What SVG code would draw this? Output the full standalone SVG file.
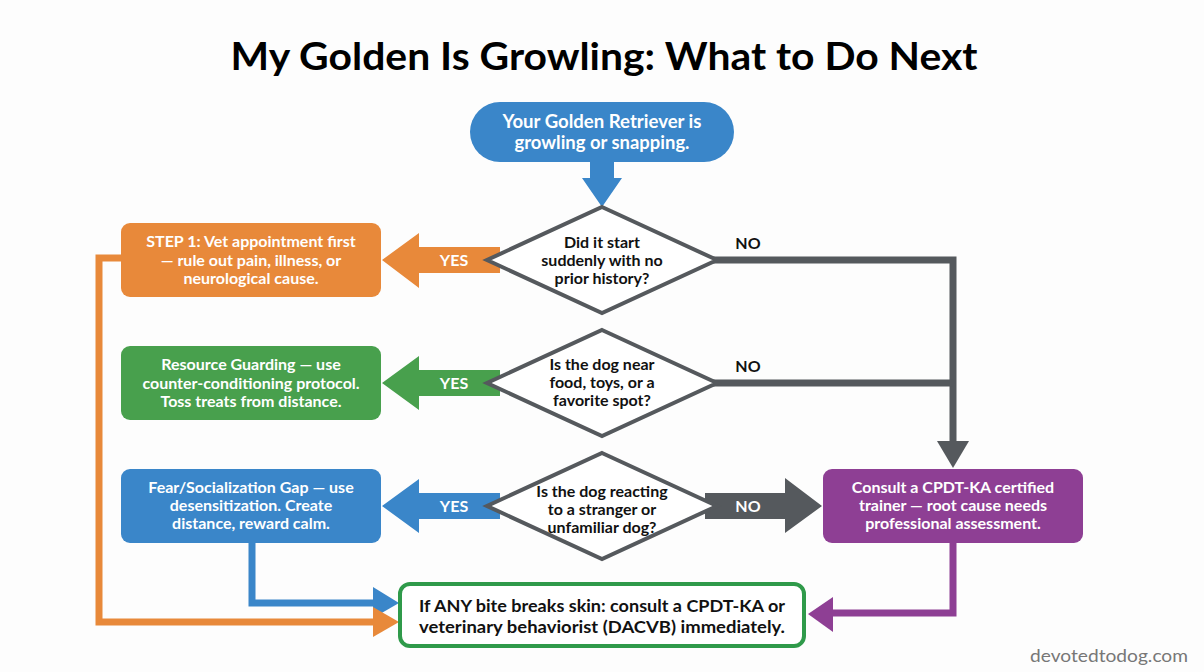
<svg xmlns="http://www.w3.org/2000/svg" width="1204" height="672" viewBox="0 0 1204 672">
<style>
.t{font-family:Lato,"Liberation Sans",sans-serif;font-weight:bold;text-anchor:middle}
.w{fill:#ffffff;font-size:16px}
.k{fill:#111111;font-size:16px}
.lbl{font-size:16px}
.dia{fill:#ffffff;stroke:#55595d;stroke-width:4;stroke-linejoin:miter}
.ln{fill:none;stroke-width:7;stroke-linejoin:miter}
</style>
<rect width="1204" height="672" fill="#fdfdfd"/>
<text class="t" x="604" y="70" font-size="38" fill="#000" textLength="747" lengthAdjust="spacingAndGlyphs">My Golden Is Growling: What to Do Next</text>

<g id="connectors">
  <polygon points="590,158 614,158 614,178 622,178 602,207 582,178 590,178" fill="#3a86c9"/>
  <polygon points="382,260 419,233 419,247 500,247 500,273 419,273 419,288" fill="#e8893a"/>
  <polygon points="382,383 419,356 419,370 500,370 500,396 419,396 419,410" fill="#48a04d"/>
  <polygon points="382,506 419,479 419,493 500,493 500,519 419,519 419,533" fill="#3a86c9"/>
  <polygon points="705,493 785,493 785,478 822,506 785,533 785,519 705,519" fill="#55595d"/>
  <polyline class="ln" points="710,260 953,260 953,445" stroke="#55595d"/>
  <polyline class="ln" points="710,383 953,383" stroke="#55595d"/>
  <polygon points="937,441 969,441 953,468" fill="#55595d"/>
  <polyline class="ln" points="252,540 252,603 376,603" stroke="#3a86c9"/>
  <polygon points="373,587 399,603 373,618" fill="#3a86c9"/>
  <polyline class="ln" points="124,258 99,258 99,622 376,622" stroke="#e8893a"/>
  <polygon points="373,607 399,622 373,637" fill="#e8893a"/>
  <polyline class="ln" points="953,540 953,613 830,613" stroke="#8e3f94"/>
  <polygon points="833,597 808,614 833,632" fill="#8e3f94"/>
  <text class="t w lbl" x="454" y="266">YES</text>
  <text class="t w lbl" x="454" y="389">YES</text>
  <text class="t w lbl" x="454" y="512">YES</text>
  <text class="t w lbl" x="748" y="512">NO</text>
  <text class="t k lbl" x="748" y="249">NO</text>
  <text class="t k lbl" x="748" y="372">NO</text>
</g>

<g id="start">
  <rect x="470" y="102" width="264" height="60" rx="30" fill="#3a86c9"/>
  <text class="t w" style="font-size:18px" x="602" y="128" textLength="199" lengthAdjust="spacingAndGlyphs">Your Golden Retriever is</text>
  <text class="t w" style="font-size:18px" x="602" y="149" textLength="175" lengthAdjust="spacingAndGlyphs">growling or snapping.</text>
</g>

<g id="q1">
  <polygon class="dia" points="602,207 717,260 602,313 487,260"/>
  <text class="t k" x="602" y="248">Did it start</text>
  <text class="t k" x="602" y="266">suddenly with no</text>
  <text class="t k" x="602" y="284">prior history?</text>
</g>
<g id="q2">
  <polygon class="dia" points="602,330 717,383 602,436 487,383"/>
  <text class="t k" x="602" y="370">Is the dog near</text>
  <text class="t k" x="602" y="388">food, toys, or a</text>
  <text class="t k" x="602" y="406">favorite spot?</text>
</g>
<g id="q3">
  <polygon class="dia" points="602,453 717,506 602,559 487,506"/>
  <text class="t k" x="602" y="497">Is the dog reacting</text>
  <text class="t k" x="602" y="515">to a stranger or</text>
  <text class="t k" x="602" y="533">unfamiliar dog?</text>
</g>

<g id="vet">
  <rect x="121" y="223" width="260" height="74" rx="9" fill="#e8893a"/>
  <text class="t w" x="251" y="247">STEP 1: Vet appointment first</text>
  <text class="t w" x="251" y="266">— rule out pain, illness, or</text>
  <text class="t w" x="251" y="284">neurological cause.</text>
</g>
<g id="resource">
  <rect x="121" y="346" width="260" height="74" rx="9" fill="#48a04d"/>
  <text class="t w" x="251" y="370">Resource Guarding — use</text>
  <text class="t w" x="251" y="389">counter-conditioning protocol.</text>
  <text class="t w" x="251" y="407">Toss treats from distance.</text>
</g>
<g id="fear">
  <rect x="121" y="469" width="260" height="74" rx="9" fill="#3a86c9"/>
  <text class="t w" x="251" y="493">Fear/Socialization Gap — use</text>
  <text class="t w" x="251" y="511">desensitization. Create</text>
  <text class="t w" x="251" y="529">distance, reward calm.</text>
</g>
<g id="trainer">
  <rect x="823" y="469" width="260" height="74" rx="9" fill="#8e3f94"/>
  <text class="t w" x="953" y="493">Consult a CPDT-KA certified</text>
  <text class="t w" x="953" y="511">trainer — root cause needs</text>
  <text class="t w" x="953" y="529">professional assessment.</text>
</g>
<g id="bite">
  <rect x="400" y="584" width="404" height="62" rx="10" fill="#ffffff" stroke="#2f9a4a" stroke-width="4"/>
  <text class="t k" style="font-size:17px" x="602" y="612" textLength="366" lengthAdjust="spacingAndGlyphs">If ANY bite breaks skin: consult a CPDT-KA or</text>
  <text class="t k" style="font-size:17px" x="602" y="633" textLength="366" lengthAdjust="spacingAndGlyphs">veterinary behaviorist (DACVB) immediately.</text>
</g>
<text x="1188" y="662" font-family="Lato,'Liberation Sans',sans-serif" font-size="18" fill="#777777" text-anchor="end" textLength="158" lengthAdjust="spacingAndGlyphs">devotedtodog.com</text>
</svg>
